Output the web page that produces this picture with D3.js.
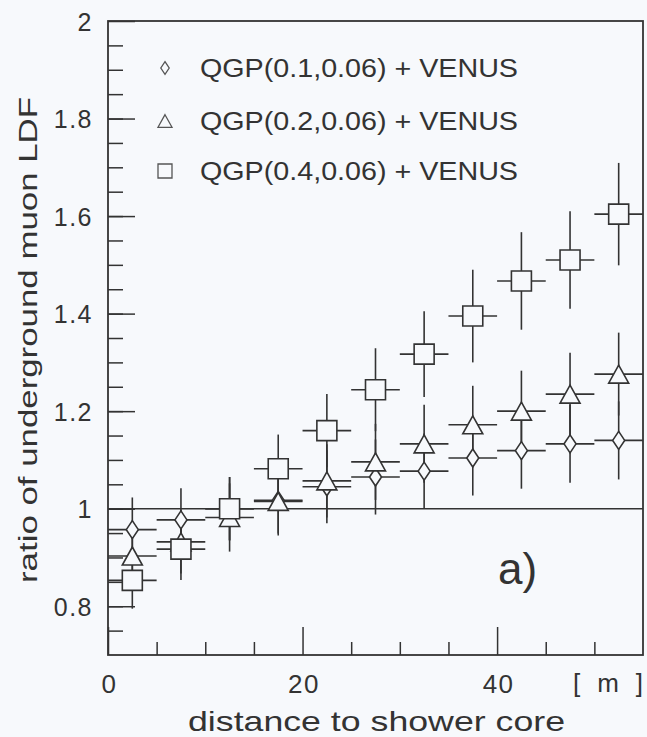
<!DOCTYPE html>
<html>
<head>
<meta charset="utf-8">
<script src="https://cdn.jsdelivr.net/npm/d3@7"></script>
<style>
  html, body { margin: 0; padding: 0; background: #f7f9fc; }
  svg { display: block; font-family: "Liberation Sans", Arial, sans-serif; }
</style>
</head>
<body>
<svg id="chart"></svg>
<script>
// bins in distance to shower core [m]
const distance = [2.5, 7.5, 12.5, 17.5, 22.5, 27.5, 32.5, 37.5, 42.5, 47.5, 52.5];
const binHalf = 2.5;

// QGP(0.1,0.06) + VENUS  (diamonds)
const ratio01 = [0.957, 0.977, 1.000, 1.017, 1.045, 1.065, 1.077, 1.104, 1.119, 1.133, 1.140];
const err01   = [0.066, 0.065, 0.065, 0.068, 0.075, 0.077, 0.077, 0.077, 0.078, 0.080, 0.080];
// QGP(0.2,0.06) + VENUS  (triangles)
const ratio02 = [0.903, 0.932, 0.982, 1.015, 1.057, 1.096, 1.133, 1.172, 1.200, 1.235, 1.276];
const err02   = [0.060, 0.065, 0.070, 0.070, 0.075, 0.078, 0.080, 0.080, 0.083, 0.085, 0.085];
// QGP(0.4,0.06) + VENUS  (squares)
const ratio04 = [0.853, 0.917, 1.000, 1.082, 1.160, 1.244, 1.317, 1.395, 1.467, 1.510, 1.604];
const err04   = [0.058, 0.063, 0.065, 0.070, 0.075, 0.085, 0.088, 0.095, 0.100, 0.100, 0.105];

const seriesNames = ["QGP(0.1,0.06) + VENUS", "QGP(0.2,0.06) + VENUS", "QGP(0.4,0.06) + VENUS"];
const yMajorTicks = [0.8, 1, 1.2, 1.4, 1.6, 1.8, 2];
const yLabels = ["0.8", "1", "1.2", "1.4", "1.6", "1.8", "2"];
const xLabelTicks = [0, 20, 40];

const width = 647;
const height = 737;
const margin = {top: 21, right: 4, bottom: 82, left: 108};
const ink = "#333";

const svg = d3.select("#chart")
    .attr("width", width)
    .attr("height", height);

const x = d3.scaleLinear().domain([0, 55]).range([margin.left, width - margin.right]);
const y = d3.scaleLinear().domain([0.7, 2]).range([height - margin.bottom, margin.top]);

const series = [
    {name: seriesNames[0], vals: ratio01, errs: err01, shape: "diamond"},
    {name: seriesNames[1], vals: ratio02, errs: err02, shape: "triangle"},
    {name: seriesNames[2], vals: ratio04, errs: err04, shape: "square"}
];

// marker outlines, centred at 0,0
function shapePath(shape, s) {
    if (shape === "diamond") return `M0,${-9*s}L${6*s},0L0,${9*s}L${-6*s},0Z`;
    if (shape === "triangle") return `M0,${-9*s}L${10*s},${9*s}L${-10*s},${9*s}Z`;
    return `M${-10*s},${-10*s}H${10*s}V${10*s}H${-10*s}Z`;
}

// y axis: minor and major ticks pointing inward
const yMinor = d3.range(0.75, 2.0, 0.05).map(v => +v.toFixed(2));
svg.append("g")
    .attr("transform", `translate(${margin.left},0)`)
    .call(d3.axisLeft(y).tickValues(yMinor).tickSize(-15).tickFormat(""))
    .call(g => g.select(".domain").remove());
svg.append("g")
    .attr("transform", `translate(${margin.left},0)`)
    .call(d3.axisLeft(y).tickValues(yMajorTicks).tickSize(-27).tickPadding(15)
        .tickFormat((d, i) => yLabels[i]))
    .call(g => g.select(".domain").remove())
    .call(g => g.selectAll("text").attr("font-size", 25).attr("fill", ink)
        .attr("font-family", "Liberation Sans, Arial, sans-serif")
        .attr("dy", "0.36em").attr("letter-spacing", 1.5));

// x axis
const xMinor = d3.range(5, 55, 5).filter(v => v % 20 !== 0);
svg.append("g")
    .attr("transform", `translate(0,${height - margin.bottom})`)
    .call(d3.axisBottom(x).tickValues(xMinor).tickSize(-13).tickFormat(""))
    .call(g => g.select(".domain").remove());
svg.append("g")
    .attr("transform", `translate(0,${height - margin.bottom})`)
    .call(d3.axisBottom(x).tickValues(xLabelTicks).tickSize(-28).tickPadding(20).tickFormat(d3.format("d")))
    .call(g => g.select(".domain").remove())
    .call(g => g.selectAll("text").attr("font-size", 26).attr("fill", ink)
        .attr("font-family", "Liberation Sans, Arial, sans-serif")
        .attr("letter-spacing", 1.5).attr("dx", 1));

svg.selectAll(".tick line").attr("stroke", ink).attr("stroke-width", 1.5);

// reference line at ratio 1
svg.append("line")
    .attr("x1", x(0)).attr("x2", x(55))
    .attr("y1", y(1)).attr("y2", y(1))
    .attr("stroke", ink).attr("stroke-width", 1.6);

// error bars
const pts = [];
series.forEach(s => s.vals.forEach((v, i) => pts.push({d: distance[i], v, e: s.errs[i], shape: s.shape})));

const bars = svg.append("g").attr("stroke", ink).attr("stroke-width", 1.6);
bars.selectAll(".hbar").data(pts).enter().append("line")
    .attr("x1", p => x(p.d - binHalf)).attr("x2", p => x(p.d + binHalf))
    .attr("y1", p => y(p.v)).attr("y2", p => y(p.v));
bars.selectAll(".vbar").data(pts).enter().append("line")
    .attr("x1", p => x(p.d)).attr("x2", p => x(p.d))
    .attr("y1", p => y(p.v - p.e)).attr("y2", p => y(p.v + p.e));

// markers
svg.append("g").selectAll("path").data(pts).enter().append("path")
    .attr("transform", p => `translate(${x(p.d)},${y(p.v)})`)
    .attr("d", p => shapePath(p.shape, 1))
    .attr("fill", "#f7f9fc")
    .attr("stroke", ink).attr("stroke-width", 1.6);

// frame
svg.append("rect")
    .attr("x", x(0)).attr("y", y(2))
    .attr("width", x(55) - x(0)).attr("height", y(0.7) - y(2))
    .attr("fill", "none").attr("stroke", ink).attr("stroke-width", 1.8);

// legend
const legY = [68, 121, 171];
const legend = svg.append("g");
series.forEach((s, i) => {
    legend.append("path")
        .attr("transform", `translate(165,${legY[i]})`)
        .attr("d", shapePath(s.shape, 0.7))
        .attr("fill", "none").attr("stroke", "#555").attr("stroke-width", 1.3);
    legend.append("text")
        .attr("x", 200).attr("y", legY[i] + 9)
        .attr("font-size", 26).attr("fill", ink)
        .attr("textLength", 318).attr("lengthAdjust", "spacingAndGlyphs")
        .text(s.name);
});

// labels
svg.append("text")
    .attr("x", 188).attr("y", 731)
    .attr("font-size", 28).attr("fill", ink)
    .attr("textLength", 377).attr("lengthAdjust", "spacingAndGlyphs")
    .text("distance to shower core");

svg.append("text")
    .attr("transform", "translate(37,583) rotate(-90)")
    .attr("font-size", 25).attr("fill", ink)
    .attr("textLength", 486).attr("lengthAdjust", "spacingAndGlyphs")
    .text("ratio of underground muon LDF");

svg.append("text")
    .attr("x", 643).attr("y", 692)
    .attr("text-anchor", "end")
    .attr("font-size", 26).attr("fill", ink)
    .attr("textLength", 70).attr("lengthAdjust", "spacing")
    .text("[ m ]");

svg.append("text")
    .attr("x", 498).attr("y", 584)
    .attr("font-size", 44).attr("fill", ink)
    .text("a)");
</script>
</body>
</html>
